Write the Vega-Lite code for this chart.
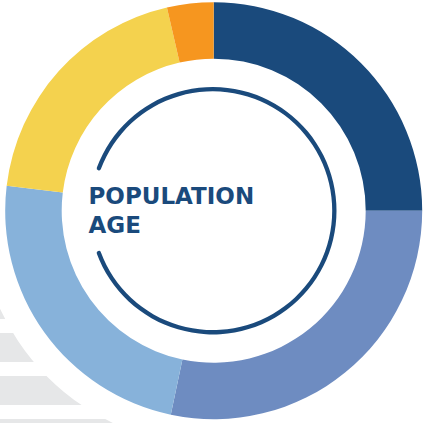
{
  "$schema": "https://vega.github.io/schema/vega-lite/v6.json",
  "width": 423,
  "height": 423,
  "autosize": "none",
  "padding": 0,
  "background": "white",
  "config": {"view": {"stroke": null}},
  "resolve": {"scale": {"y": "independent", "theta": "independent", "color": "independent"}},
  "layer": [
    {
      "data": {"values": [{"band": "1"}, {"band": "2"}, {"band": "3"}, {"band": "4"}]},
      "mark": {"type": "rect", "color": "#e6e7e8"},
      "encoding": {
        "y": {"field": "band", "type": "nominal", "axis": null,
              "scale": {"type": "band", "domain": ["1", "2", "3", "4"], "range": [290, 448], "paddingInner": 0.3256, "paddingOuter": 0}},
        "x": {"datum": 0, "type": "quantitative", "axis": null,
              "scale": {"domain": [0, 423], "nice": false, "zero": false}},
        "x2": {"datum": 160}
      }
    },
    {
      "data": {"values": [{}]},
      "mark": {"type": "arc", "theta": 0, "theta2": 6.2832, "radius": 235, "fill": "white"},
      "encoding": {
        "x": {"datum": 213.7, "type": "quantitative"},
        "y": {"datum": 210.7, "type": "quantitative", "axis": null, "scale": {"domain": [423, 0], "nice": false, "zero": false}}
      }
    },
    {
      "data": {"values": [
        {"group": "Group 1", "idx": 1, "share": 25.0},
        {"group": "Group 2", "idx": 2, "share": 28.3},
        {"group": "Group 3", "idx": 3, "share": 23.6},
        {"group": "Group 4", "idx": 4, "share": 19.5},
        {"group": "Group 5", "idx": 5, "share": 3.6}
      ]},
      "mark": {"type": "arc", "radius": 208.5, "radius2": 152},
      "encoding": {
        "theta": {"field": "share", "type": "quantitative", "stack": true},
        "order": {"field": "idx", "type": "quantitative"},
        "color": {"field": "group", "type": "nominal", "legend": null,
                  "scale": {"domain": ["Group 1", "Group 2", "Group 3", "Group 4", "Group 5"],
                            "range": ["#1a4a7c", "#6e8cc1", "#87b2da", "#f4d24e", "#f6961f"]}},
        "x": {"datum": 213.7, "type": "quantitative"},
        "y": {"datum": 210.7, "type": "quantitative", "axis": null, "scale": {"domain": [423, 0], "nice": false, "zero": false}}
      }
    },
    {
      "data": {"values": [{}]},
      "mark": {"type": "arc", "theta": -1.232, "theta2": 4.374, "radius": 123.7, "radius2": 119.4, "cornerRadius": 2.1, "fill": "#1a4a7c"},
      "encoding": {
        "x": {"datum": 212.8, "type": "quantitative"},
        "y": {"datum": 210.7, "type": "quantitative", "axis": null, "scale": {"domain": [423, 0], "nice": false, "zero": false}}
      }
    },
    {
      "data": {"values": [{"label": "POPULATION AGE"}]},
      "mark": {"type": "text", "align": "left", "baseline": "alphabetic", "lineBreak": " ", "lineHeight": 29,
               "font": "DejaVu Sans", "fontWeight": "bold", "fontSize": 23, "color": "#1a4a7c"},
      "encoding": {
        "text": {"field": "label"},
        "x": {"datum": 88.5, "type": "quantitative"},
        "y": {"datum": 204, "type": "quantitative", "axis": null, "scale": {"domain": [423, 0], "nice": false, "zero": false}}
      }
    }
  ]
}
